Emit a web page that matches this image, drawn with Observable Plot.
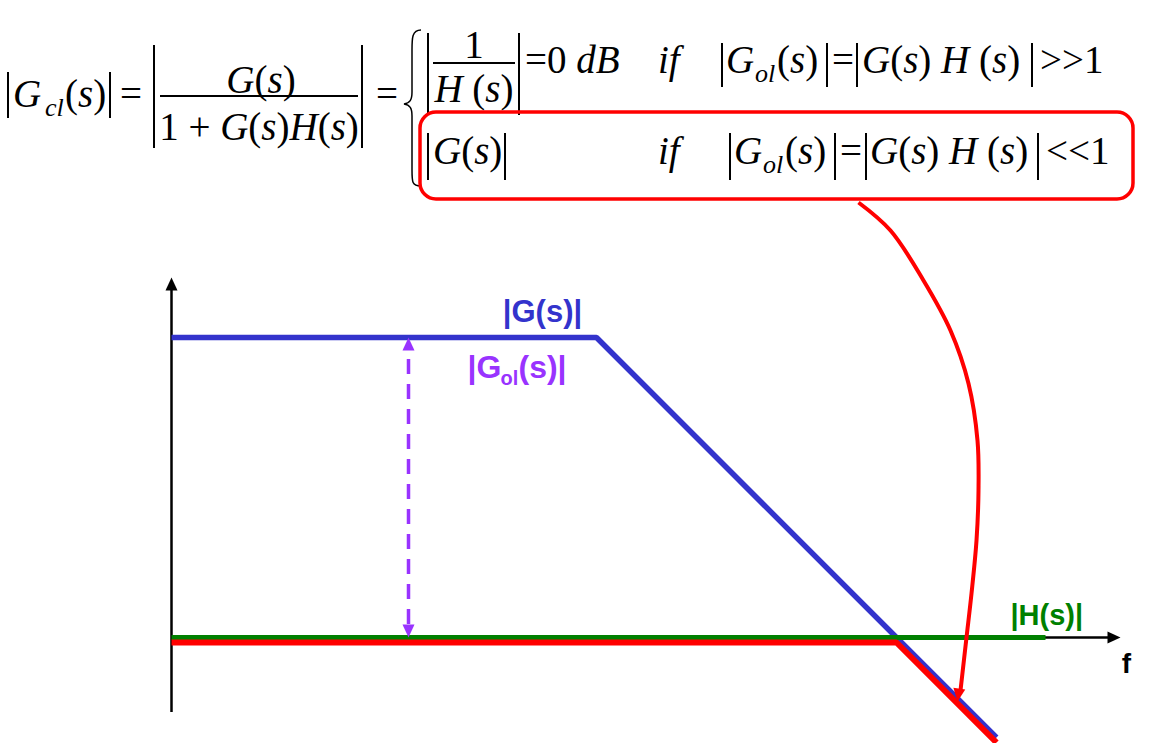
<!DOCTYPE html>
<html><head><meta charset="utf-8">
<script src="https://cdn.jsdelivr.net/npm/d3@7"></script>
<script src="https://cdn.jsdelivr.net/npm/@observablehq/plot@0.6"></script>
<style>
html,body{margin:0;padding:0;background:#fff;overflow:hidden}
#wrap{position:relative;width:1151px;height:743px}
#eq{position:absolute;left:0;top:0;pointer-events:none}
</style></head><body><div id="wrap"></div>
<script>
// ---- Data (x = log10 f in decades, y = magnitude in dB) ----
const gX  = [-2.25, 2, 6];        // |G(s)| asymptote
const gDb = [60, 60, -20];
const hX  = [-2.25, 6.49];        // |H(s)|
const hDb = [0, 0];
const clX  = [-2.25, 5, 6];       // |Gcl(s)| (drawn just below for visibility)
const clDb = [-1, -1, -21];

// axes
const axisOriginX = -2.25;
const axisYBottom = -15, axisYTop = 72;
const axisXEnd = 7.24;

// open-loop gain marker (double arrow between |H| and |G|)
const olX = 0.12, olTop = 60, olBottom = 0;

// curved callout arrow from the equation box to the |G| asymptote
const calloutX  = [4.62, 4.94, 5.27, 5.54, 5.72, 5.81, 5.82, 5.80, 5.75, 5.70, 5.64];
const calloutDb = [87.0, 81.4, 71.4, 61.4, 50.8, 39.4, 29.4, 19.4, 8.8, 0, -10.6];
const calloutTip = {x: 5.61, y: -12.8};

// labels
const labelText  = ["|G(s)|", "|H(s)|", "f"];
const labelX     = [1.46, 6.14, 7.30];
const labelDb    = [65.0, 4.26, -5.4];
const labelColor = ["#3333cc", "#008000", "#000000"];
const labelSize  = [31, 29, 28];
const labelAnchor= ["middle", "start", "middle"];
const olLabelParts = ["|G", "ol", "(s)|"];
const olLabelX     = [0.71, 1.04, 1.22];
const olLabelDb    = [54.0, 51.7, 54.0];
const olLabelSize  = [32, 20, 32];

const blue = "#3333cc", green = "#008000", red = "#ff0000", purple = "#9933ff";

const zip = (xs, ys) => xs.map((x, i) => ({x, y: ys[i]}));

function arrowHead(angleDeg, len, halfW) {
  const a = angleDeg * Math.PI / 180, c = Math.cos(a), s = Math.sin(a);
  return {draw(ctx) {
    const bx = -len * c, by = -len * s;
    ctx.moveTo(0, 0);
    ctx.lineTo(bx - halfW * s, by + halfW * c);
    ctx.lineTo(bx + halfW * s, by - halfW * c);
    ctx.closePath();
  }};
}
const heads = [
  {x: axisOriginX, y: axisYTop, angle: -90, color: "#000"},
  {x: axisXEnd, y: 0, angle: 0, color: "#000"},
  {x: olX, y: olTop, angle: -90, color: purple},
  {x: olX, y: olBottom, angle: 90, color: purple},
  {x: calloutTip.x, y: calloutTip.y, angle: 98, color: red}
];

const lineOpts = {strokeLinecap: "butt", strokeLinejoin: "miter"};
const sansBold = "Liberation Sans, Arial, sans-serif";
const labels = labelText.map((t, i) => ({t, x: labelX[i], y: labelDb[i], c: labelColor[i], s: labelSize[i], a: labelAnchor[i]}));

const plot = Plot.plot({
  width: 1151, height: 743,
  marginTop: 0, marginRight: 0, marginBottom: 0, marginLeft: 0,
  x: {domain: [-3.96, 7.55], axis: null},
  y: {domain: [-21.2, 127.4], axis: null},
  style: {background: "white"},
  marks: [
    Plot.ruleX([axisOriginX], {y1: axisYBottom, y2: axisYTop - 2, stroke: "#000", strokeWidth: 2.5}),
    Plot.ruleY([0], {x1: axisOriginX, x2: axisXEnd - 0.1, stroke: "#000", strokeWidth: 2.5}),
    Plot.line(zip(gX, gDb), {x: "x", y: "y", stroke: blue, strokeWidth: 5.5, ...lineOpts}),
    Plot.line(zip(hX, hDb), {x: "x", y: "y", stroke: green, strokeWidth: 5, ...lineOpts}),
    Plot.line(zip(clX, clDb), {x: "x", y: "y", stroke: red, strokeWidth: 6, ...lineOpts}),
    Plot.ruleX([olX], {y1: olBottom + 2.6, y2: olTop - 2.6, stroke: purple, strokeWidth: 3.5, strokeDasharray: "15,10"}),
    Plot.line(zip(calloutX, calloutDb), {x: "x", y: "y", stroke: red, strokeWidth: 4, curve: "catmull-rom", strokeLinecap: "butt"}),
    ...heads.map(h => Plot.dot([h], {x: "x", y: "y", r: 6, symbol: arrowHead(h.angle, 13, 6), fill: h.color, stroke: "none"})),
    ...labels.map(d => Plot.text([d], {x: "x", y: "y", text: "t", fill: "c", fontSize: d.s, fontWeight: "bold", fontFamily: sansBold, textAnchor: d.a})),
    ...olLabelParts.map((t, i) => Plot.text([{t, x: olLabelX[i], y: olLabelDb[i]}],
      {x: "x", y: "y", text: "t", fill: purple, fontSize: olLabelSize[i], fontWeight: "bold", fontFamily: sansBold, textAnchor: "start"}))
  ]
});
document.getElementById("wrap").appendChild(plot);

// ---- Equation (title area) ----
const eqTexts = [
  {x: 13, y: 107, s: "*G*"}, {x: 45, y: 116, s: "*cl*", size: 26}, {x: 65, y: 107, s: "(*s*)"},
  {x: 120, y: 107, s: "="},
  {x: 261, y: 93, s: "*G*(*s*)", anchor: "middle"},
  {x: 259, y: 140, s: "1 + *G*(*s*)*H*(*s*)", anchor: "middle"},
  {x: 376, y: 107, s: "="},
  {x: 474, y: 58, s: "1", anchor: "middle"},
  {x: 474, y: 102, s: "*H* (*s*)", anchor: "middle"},
  {x: 525, y: 73, s: "=0 *dB*"},
  {x: 658, y: 73, s: "*if*"},
  {x: 726, y: 73, s: "*G*"}, {x: 755, y: 82, s: "*ol*", size: 26}, {x: 777, y: 73, s: "(*s*)"},
  {x: 832, y: 73, s: "="},
  {x: 862, y: 73, s: "*G*(*s*) *H* (*s*)"},
  {x: 1040, y: 73, s: ">>1"},
  {x: 433, y: 164, s: "*G*(*s*)"},
  {x: 658, y: 164, s: "*if*"},
  {x: 734, y: 164, s: "*G*"}, {x: 763, y: 173, s: "*ol*", size: 26}, {x: 785, y: 164, s: "(*s*)"},
  {x: 840, y: 164, s: "="},
  {x: 870, y: 164, s: "*G*(*s*) *H* (*s*)"},
  {x: 1046, y: 164, s: "<<1"}
];
const eqBars = [
  [8, 72, 118], [110, 72, 118], [154, 45, 148], [362, 45, 148],
  [428, 33, 115], [519, 33, 115],
  [722, 43, 87], [827, 43, 87], [857, 43, 87], [1032, 43, 87],
  [428, 133, 180], [505, 133, 180],
  [730, 133, 180], [835, 133, 180], [866, 133, 180], [1038, 133, 180]
];
const eqFracs = [[160, 358, 96], [433, 515, 63]];
const eqBox = {x: 420, y: 112, w: 713, h: 87, r: 16};

const eq = d3.select("#wrap").append("svg").attr("id", "eq").attr("width", 1151).attr("height", 215);
const eqFont = "'Liberation Serif', 'Times New Roman', serif";
for (const t of eqTexts) {
  const el = eq.append("text").attr("x", t.x).attr("y", t.y)
    .attr("font-family", eqFont).attr("font-size", t.size || 39)
    .attr("text-anchor", t.anchor || "start").attr("fill", "#000")
    .attr("xml:space", "preserve");
  t.s.split("*").forEach((seg, i) => {
    if (!seg) return;
    el.append("tspan").attr("font-style", i % 2 ? "italic" : "normal").text(seg);
  });
}
for (const [x, y1, y2] of eqBars) eq.append("line").attr("x1", x).attr("x2", x).attr("y1", y1).attr("y2", y2).attr("stroke", "#000").attr("stroke-width", 2);
for (const [x1, x2, y] of eqFracs) eq.append("line").attr("x1", x1).attr("x2", x2).attr("y1", y).attr("y2", y).attr("stroke", "#000").attr("stroke-width", 2);
eq.append("path").attr("d", "M421,30 C412,30 412,38 412,50 L412,92 C412,100 410,103 404,104 C410,105 412,108 412,116 L412,170 C412,182 412,186 421,186")
  .attr("fill", "none").attr("stroke", "#000").attr("stroke-width", 1.5);
eq.append("rect").attr("x", eqBox.x).attr("y", eqBox.y).attr("width", eqBox.w).attr("height", eqBox.h)
  .attr("rx", eqBox.r).attr("fill", "none").attr("stroke", red).attr("stroke-width", 3.5);
</script></body></html>
